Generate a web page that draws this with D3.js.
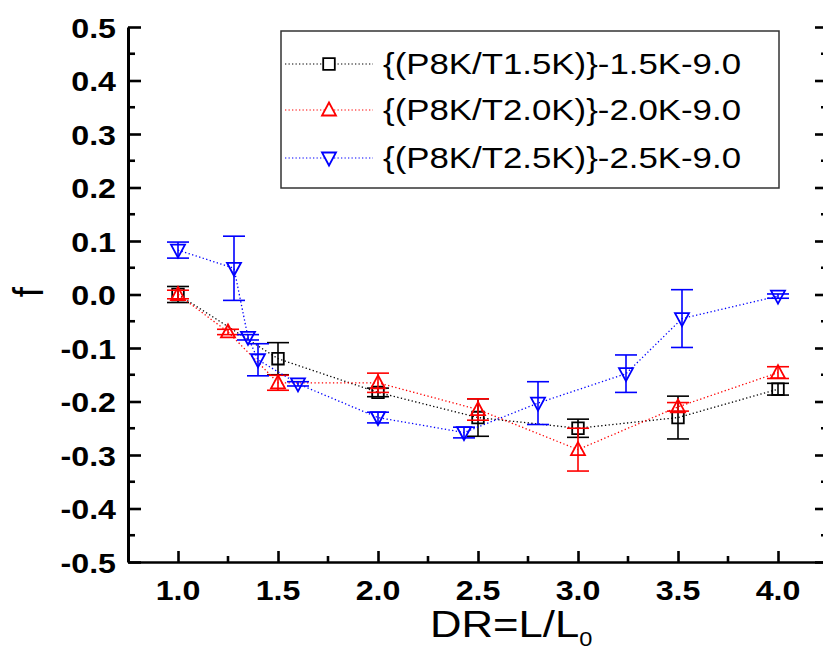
<!DOCTYPE html>
<html>
<head>
<meta charset="utf-8">
<script src="https://cdn.jsdelivr.net/npm/d3@7"></script>
<style>
  html, body { margin: 0; padding: 0; background: #fff; }
  svg { display: block; font-family: "Liberation Sans", Arial, sans-serif; }
</style>
</head>
<body>
<svg id="chart" width="823" height="654"></svg>
<script>
// Friction coefficient f versus draw ratio DR for three processing conditions
const seriesNames = [
  "{(P8K/T1.5K)}-1.5K-9.0",
  "{(P8K/T2.0K)}-2.0K-9.0",
  "{(P8K/T2.5K)}-2.5K-9.0"
];
const seriesColors = ["#000000", "#ff0000", "#0000ff"];
const seriesSymbols = ["square", "triangleUp", "triangleDown"];

const drBlack  = [1.0, 1.5, 2.0, 2.5, 3.0, 3.5, 4.0];
const fBlack   = [0.0, -0.12, -0.183, -0.23, -0.25, -0.23, -0.177];
const errBlack = [0.015, 0.03, 0.008, 0.035, 0.017, 0.04, 0.011];

const drRed  = [1.0, 1.25, 1.5, 2.0, 2.5, 3.0, 3.5, 4.0];
const fRed   = [0.0, -0.07, -0.165, -0.165, -0.215, -0.29, -0.21, -0.146];
const errRed = [0.008, 0.005, 0.014, 0.018, 0.02, 0.04, 0.008, 0.011];

const drBlue  = [1.0, 1.28, 1.35, 1.4, 1.6, 2.0, 2.43, 2.8, 3.24, 3.52, 4.0];
const fBlue   = [0.083, 0.049, -0.08, -0.122, -0.167, -0.23, -0.258, -0.203, -0.148, -0.045, -0.003];
const errBlue = [0.015, 0.06, 0.005, 0.03, 0.004, 0.01, 0.01, 0.04, 0.035, 0.054, 0.004];

const xTickValues = [1.0, 1.5, 2.0, 2.5, 3.0, 3.5, 4.0];
const yTickValues = [0.5, 0.4, 0.3, 0.2, 0.1, 0.0, -0.1, -0.2, -0.3, -0.4, -0.5];

const series = [
  { xs: drBlack, ys: fBlack, es: errBlack },
  { xs: drRed,   ys: fRed,   es: errRed },
  { xs: drBlue,  ys: fBlue,  es: errBlue }
].map((s, i) => ({
  name: seriesNames[i], color: seriesColors[i], symbol: seriesSymbols[i],
  points: s.xs.map((x, j) => ({ x, y: s.ys[j], e: s.es[j] }))
}));

const svg = d3.select("#chart");
const plotLeft = 128, plotRight = 828, plotTop = 27, plotBottom = 562;
const sx = 1.15; // horizontal glyph stretch used throughout the figure

const x = d3.scaleLinear().domain([0.75, 4.25]).range([plotLeft, plotRight]);
const y = d3.scaleLinear().domain([-0.5, 0.5]).range([plotBottom, plotTop]);

// one decimal, plain hyphen for negatives
const fmt = d => (Math.abs(d) < 1e-9 ? 0 : d).toFixed(1);

const axisColor = "#000";
const majorX = 11, minorX = 6, majorY = 13, minorY = 7;

// Bottom axis (ticks point inward)
const xAxis = d3.axisBottom(x).tickValues(xTickValues).tickSizeInner(-majorX).tickSizeOuter(0).tickFormat(fmt);
const gx = svg.append("g").attr("transform", `translate(0,${plotBottom})`).call(xAxis);
gx.select(".domain").attr("stroke-width", 2.6);
gx.selectAll(".tick line").attr("stroke-width", 2.6);
gx.selectAll(".tick text").remove();
const xMinor = d3.range(1.25, 4.3, 0.5);
gx.selectAll("line.minor").data(xMinor).join("line").attr("class", "minor")
  .attr("x1", d => x(d)).attr("x2", d => x(d)).attr("y1", 0).attr("y2", -minorX)
  .attr("stroke", axisColor).attr("stroke-width", 2.6);
svg.append("g").selectAll("text").data(xTickValues).join("text")
  .attr("transform", d => `translate(${x(d)},600) scale(${sx},1)`)
  .attr("text-anchor", "middle").attr("font-weight", "bold").attr("font-size", 28)
  .text(fmt);

// Left axis (ticks point inward)
const yAxis = d3.axisLeft(y).tickValues(yTickValues).tickSizeInner(-majorY).tickSizeOuter(0);
const gy = svg.append("g").attr("transform", `translate(${plotLeft},0)`).call(yAxis);
gy.select(".domain").attr("stroke-width", 3);
gy.selectAll(".tick line").attr("stroke-width", 2.6);
gy.selectAll(".tick text").remove();
const yMinor = d3.range(-0.45, 0.5, 0.1);
gy.selectAll("line.minor").data(yMinor).join("line").attr("class", "minor")
  .attr("x1", 0).attr("x2", minorY).attr("y1", d => y(d)).attr("y2", d => y(d))
  .attr("stroke", axisColor).attr("stroke-width", 2.6);
svg.append("g").selectAll("text").data(yTickValues).join("text")
  .attr("transform", d => `translate(116,${y(d) + 10.5}) scale(${sx},1)`)
  .attr("text-anchor", "end").attr("font-weight", "bold").attr("font-size", 28)
  .text(fmt);

// Right axis (no labels)
const gr = svg.append("g").attr("transform", `translate(${plotRight},0)`)
  .call(d3.axisRight(y).tickValues(yTickValues).tickSizeInner(-majorY).tickSizeOuter(0).tickFormat(""));
gr.select(".domain").attr("stroke-width", 3);
gr.selectAll(".tick line").attr("stroke-width", 2.6);
gr.selectAll("line.minor").data(yMinor).join("line").attr("class", "minor")
  .attr("x1", 0).attr("x2", -minorY).attr("y1", d => y(d)).attr("y2", d => y(d))
  .attr("stroke", axisColor).attr("stroke-width", 2.6);

// Axis titles
svg.append("text")
  .attr("transform", `translate(43,292) scale(${sx},1) rotate(-90)`)
  .attr("text-anchor", "middle").attr("font-size", 37).text("f");
const xt = svg.append("text")
  .attr("transform", `translate(430,637) scale(1.18,1)`)
  .attr("font-size", 37);
xt.append("tspan").text("DR=L/L");
xt.append("tspan").attr("font-size", 20).attr("dy", 9).text("0");

// Marker shapes
function symbolPath(kind) {
  if (kind === "square") return "M-5.8,-5.8H5.8V5.8H-5.8Z";
  if (kind === "triangleUp") return "M0,-7.5L7,5.5L-7,5.5Z";
  return "M0,7.5L7,-5.5L-7,-5.5Z";
}

const plot = svg.append("g");
series.forEach(s => {
  const g = plot.append("g");
  // dotted connecting line
  g.append("path")
    .datum(s.points)
    .attr("d", d3.line().x(d => x(d.x)).y(d => y(d.y)))
    .attr("fill", "none").attr("stroke", s.color).attr("stroke-width", 1.3)
    .attr("stroke-dasharray", "1.3,2.4");
  // error bars
  const eb = g.append("g").attr("stroke", s.color).attr("stroke-width", 1.6);
  s.points.forEach(p => {
    const cx = x(p.x), y1 = y(p.y + p.e), y2 = y(p.y - p.e);
    eb.append("line").attr("x1", cx).attr("x2", cx).attr("y1", y1).attr("y2", y2);
    eb.append("line").attr("x1", cx - 11).attr("x2", cx + 11).attr("y1", y1).attr("y2", y1);
    eb.append("line").attr("x1", cx - 11).attr("x2", cx + 11).attr("y1", y2).attr("y2", y2);
  });
  // markers
  g.selectAll("path.mk").data(s.points).join("path").attr("class", "mk")
    .attr("d", symbolPath(s.symbol))
    .attr("transform", d => `translate(${x(d.x)},${y(d.y)})`)
    .attr("fill", "none").attr("stroke", s.color).attr("stroke-width", 1.8);
});

// Legend
const lg = svg.append("g");
lg.append("rect").attr("x", 281).attr("y", 31).attr("width", 498).attr("height", 157)
  .attr("fill", "#fff").attr("stroke", "#333").attr("stroke-width", 1.5);
const rowY = [64, 110, 158];
series.forEach((s, i) => {
  const ry = rowY[i];
  lg.append("line").attr("x1", 285).attr("x2", 373).attr("y1", ry).attr("y2", ry)
    .attr("stroke", s.color).attr("stroke-width", 1.2).attr("stroke-dasharray", "1.3,2.2");
  lg.append("path").attr("d", symbolPath(s.symbol))
    .attr("transform", `translate(329,${ry})`)
    .attr("fill", "#fff").attr("stroke", s.color).attr("stroke-width", 1.8);
  lg.append("text").attr("x", 383).attr("y", ry + 10).attr("font-size", 29)
    .attr("textLength", 358).attr("lengthAdjust", "spacingAndGlyphs")
    .text(s.name);
});
</script>
</body>
</html>
